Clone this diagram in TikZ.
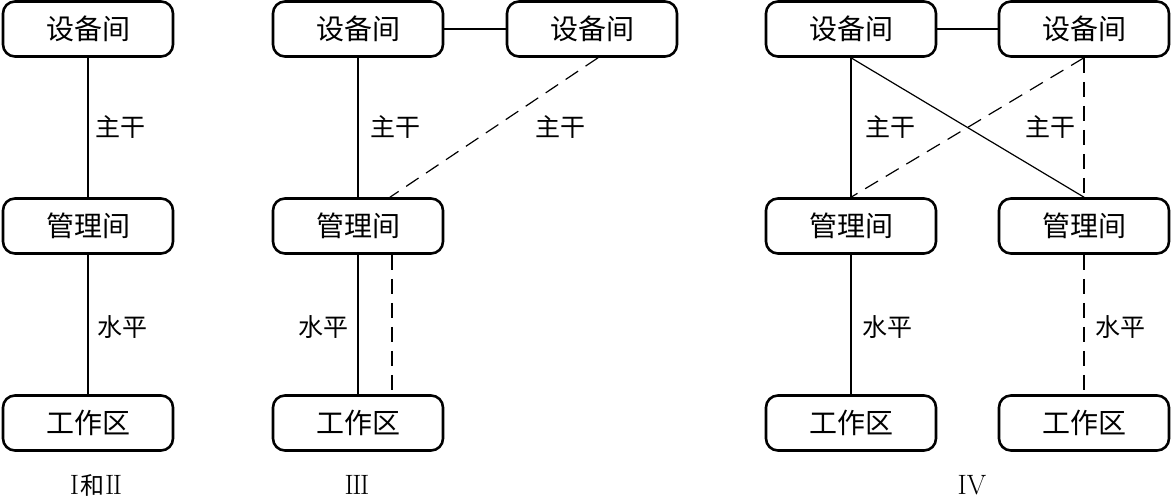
\documentclass[tikz,border=0pt]{standalone}
\usepackage{fontspec}
\newfontfamily\cjk{Noto Sans CJK SC}
\usetikzlibrary{calc}
\begin{document}
\begin{tikzpicture}[x=1pt,y=-1pt,
  roombox/.style={draw,line width=2.6pt,rounded corners=12pt,minimum width=170pt,minimum height=55pt,inner sep=0pt,font=\cjk\fontsize{28}{30}\selectfont},
  lbl/.style={inner sep=0pt,font=\cjk\fontsize{25}{27}\selectfont},
  numlbl/.style={inner sep=0pt,font=\fontsize{28}{30}\selectfont},
  wire/.style={line width=1.2pt},
  dwire/.style={line width=1.2pt,dash pattern=on 15pt off 9pt}]
\useasboundingbox (0,0) rectangle (1171,502);
% column I & II
\node[roombox] (d1) at (88,29) {设备间};
\node[roombox] (m1) at (88,226) {管理间};
\node[roombox] (w1) at (88,423) {工作区};
\draw[wire] (d1.south) -- (m1.north);
\draw[wire] (m1.south) -- (w1.north);
\node[lbl] (l1a) at (120,127) {主干};
\node[lbl] (l1b) at (122,327) {水平};
\node[numlbl] (n1) at (96,485) {I\hspace{1pt}{\cjk\fontsize{24}{26}\selectfont 和}\hspace{1pt}I\hspace{-1.5pt}I};
% column III
\node[roombox] (d2) at (358,29) {设备间};
\node[roombox] (d2b) at (592,29) {设备间};
\node[roombox] (m2) at (358,226) {管理间};
\node[roombox] (w2) at (358,423) {工作区};
\draw[wire] (d2.east) -- (d2b.west);
\draw[wire] (d2.south) -- (m2.north);
\draw[wire] (m2.south) -- (w2.north);
\coordinate (c2a) at ($(d2b.south)+(6,0)$);
\coordinate (c2b) at ($(m2.north)+(32,0)$);
\draw[dwire] (c2a) -- (c2b);
\coordinate (c2c) at ($(m2.south)+(34,0)$);
\coordinate (c2d) at ($(w2.north)+(34,0)$);
\draw[dwire] (c2c) -- (c2d);
\node[lbl] (l2a) at (395,127) {主干};
\node[lbl] (l2b) at (560,127) {主干};
\node[lbl] (l2c) at (323,327) {水平};
\node[numlbl] (n2) at (357,485) {I\hspace{-1.5pt}I\hspace{-1.5pt}I};
% column IV
\node[roombox] (d3) at (851,29) {设备间};
\node[roombox] (d4) at (1084,29) {设备间};
\node[roombox] (m3) at (851,226) {管理间};
\node[roombox] (m4) at (1084,226) {管理间};
\node[roombox] (w3) at (851,423) {工作区};
\node[roombox] (w4) at (1084,423) {工作区};
\draw[wire] (d3.east) -- (d4.west);
\draw[wire] (d3.south) -- (m3.north);
\draw[wire] (d3.south) -- (m4.north);
\draw[dwire] (d4.south) -- (m3.north);
\draw[dwire] (d4.south) -- (m4.north);
\draw[wire] (m3.south) -- (w3.north);
\draw[dwire] (m4.south) -- (w4.north);
\node[lbl] (l3a) at (890,127) {主干};
\node[lbl] (l3b) at (1050,127) {主干};
\node[lbl] (l3c) at (887,327) {水平};
\node[lbl] (l3d) at (1120,327) {水平};
\node[numlbl] (n3) at (972,485) {IV};
\end{tikzpicture}
\end{document}
